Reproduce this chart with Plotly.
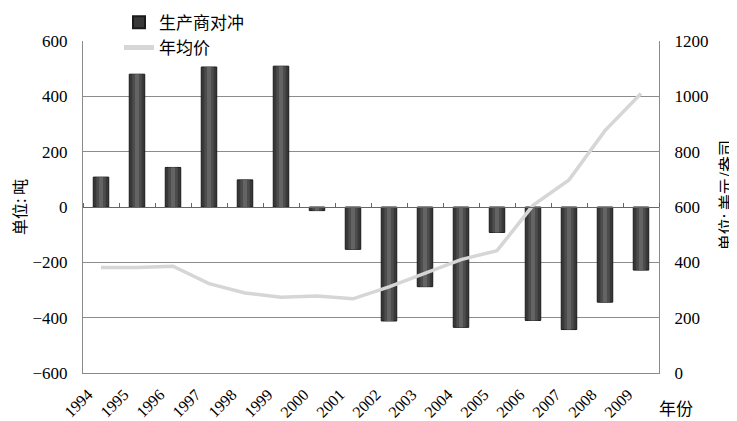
import plotly.graph_objects as go

years = [str(y) for y in range(1994, 2010)]
hedge = [108, 480, 143, 506, 98, 509, -13, -153, -412, -288, -435, -92, -410, -443, -344, -228]
price = [381, 381, 386, 323, 289, 274, 278, 268, 311, 360, 410, 442, 606, 698, 876, 1010]

bar_name = "生产商对冲"
line_name = "年均价"
left_title = "单位: 吨"
right_title = "单位: 美元/盎司"
x_title = "年份"

SERIF = "Liberation Serif"
CJK = "Noto Sans CJK SC"

fig = go.Figure()
# main bar (with dark edges)
fig.add_trace(go.Bar(x=years, y=hedge, name=bar_name, width=0.43,
                     marker=dict(color="#383838", line=dict(color="#1a1a1a", width=1)),
                     hoverinfo="skip"))
# lighter inner stripes to imitate the cylindrical shading
fig.add_trace(go.Bar(x=years, y=hedge, width=0.26, showlegend=False,
                     marker=dict(color="#4d4d4d", line=dict(width=0)), hoverinfo="skip"))
fig.add_trace(go.Bar(x=years, y=hedge, width=0.11, showlegend=False,
                     marker=dict(color="#646464", line=dict(width=0)), hoverinfo="skip"))
# helper trace for the zero-line axis ticks
fig.add_trace(go.Scatter(x=years, y=hedge, xaxis="x2", yaxis="y", mode="none",
                         showlegend=False, hoverinfo="skip"))
fig.add_trace(go.Scatter(x=years, y=price, name=line_name, yaxis="y2", mode="lines",
                         line=dict(color="#d6d6d6", width=3.5), hoverinfo="skip"))

fig.update_layout(
    width=729, height=413,
    margin=dict(l=75, r=78, t=33, b=48, autoexpand=False),
    paper_bgcolor="white", plot_bgcolor="white",
    barmode="overlay",
    font=dict(family=SERIF, size=16, color="black"),
    xaxis=dict(type="category", categoryarray=years, range=[-0.5, 15.5],
               showgrid=False, showline=True, linecolor="#8a8a8a", linewidth=1,
               ticks="", tickangle=-45, tickfont=dict(family=SERIF, size=16),
               ticklabelshift=-13, ticklabelstandoff=5, mirror=False, zeroline=False,
               automargin=False),
    xaxis2=dict(type="category", categoryarray=years, range=[-0.5, 15.5],
                overlaying="x", anchor="free", position=0.5, side="top",
                showgrid=False, showline=True, linecolor="#666666", linewidth=1,
                ticks="outside", ticklen=4, tickcolor="#666666", tickson="boundaries",
                showticklabels=False, zeroline=False, automargin=False),
    yaxis=dict(range=[-600, 600], dtick=200, showgrid=True, gridcolor="#8c8c8c",
               gridwidth=1, zeroline=False, showline=True, linecolor="#8a8a8a",
               ticks="", ticklabelstandoff=11, tickfont=dict(family=SERIF, size=17),
               automargin=False),
    yaxis2=dict(range=[0, 1200], dtick=200, overlaying="y", side="right",
                showgrid=False, zeroline=False, showline=True, linecolor="#8a8a8a",
                ticks="", ticklabelstandoff=11, tickfont=dict(family=SERIF, size=17),
                automargin=False),
    legend=dict(x=0.0625, y=1.109, xanchor="left", yanchor="top",
                bgcolor="white", font=dict(family=CJK, size=17),
                tracegroupgap=0, itemsizing="constant"),
    showlegend=True,
    annotations=[
        dict(text=left_title, xref="paper", yref="paper", x=-0.111, y=0.5,
             xanchor="center", yanchor="middle", textangle=-90, showarrow=False,
             font=dict(family=CJK, size=16)),
        dict(text=right_title, xref="paper", yref="paper", x=1.116, y=0.535,
             xanchor="center", yanchor="middle", textangle=-90, showarrow=False,
             font=dict(family=CJK, size=16)),
        dict(text=x_title, xref="paper", yref="paper", x=1.03, y=-0.104,
             xanchor="center", yanchor="middle", showarrow=False,
             font=dict(family=CJK, size=17)),
    ],
)

fig.write_html("out.html")
